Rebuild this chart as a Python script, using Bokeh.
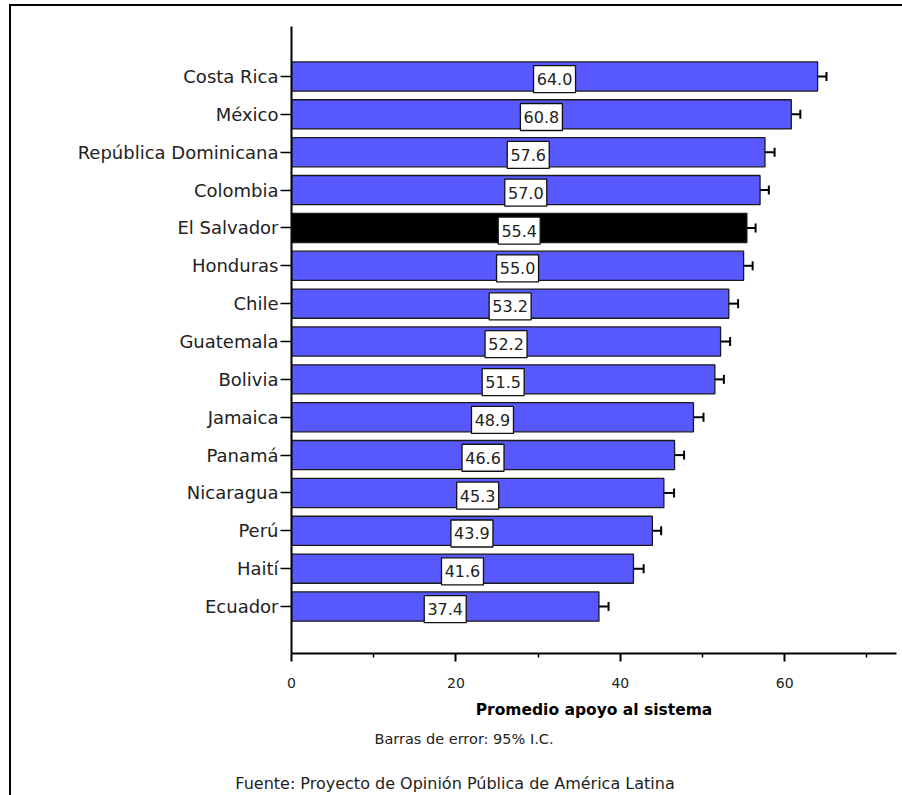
from bokeh.plotting import figure
from bokeh.layouts import column
from bokeh.models import (ColumnDataSource, Range1d, FixedTicker, Whisker, TeeHead, Div)
from bokeh.core.properties import value
from bokeh.embed import file_html
from bokeh.resources import INLINE

countries = ["Costa Rica", "México", "República Dominicana", "Colombia", "El Salvador",
             "Honduras", "Chile", "Guatemala", "Bolivia", "Jamaica", "Panamá",
             "Nicaragua", "Perú", "Haití", "Ecuador"]
means = [64.0, 60.8, 57.6, 57.0, 55.4, 55.0, 53.2, 52.2, 51.5, 48.9, 46.6, 45.3, 43.9, 41.6, 37.4]
ci_half = [1.08, 1.10, 1.17, 1.07, 1.06, 1.10, 1.13, 1.16, 1.10, 1.22, 1.16, 1.24, 1.07, 1.24, 1.17]
highlight = "El Salvador"
x_ticks = [0, 20, 40, 60]
x_minor = [10, 30, 50, 70]
x_title = "Promedio apoyo al sistema"
note = "Barras de error: 95% I.C."
source_note = "Fuente: Proyecto de Opinión Pública de América Latina"

FONT = "DejaVu Sans"
BLUE = "#5858FF"
W = 890
n = len(countries)
ys = [n - i for i in range(n)]
src = ColumnDataSource(dict(
    y=ys,
    ylab=[y - 0.07 for y in ys],
    val=means,
    mid=[m / 2 for m in means],
    lo=[m - e for m, e in zip(means, ci_half)],
    hi=[m + e for m, e in zip(means, ci_half)],
    lab=[f"{m:.1f}" for m in means],
    color=["black" if c == highlight else BLUE for c in countries],
))

p = figure(width=W, height=720, output_backend="svg", toolbar_location=None,
           x_range=Range1d(0, 73.6), y_range=Range1d(-0.24, n + 1.32),
           min_border_left=280, min_border_right=5, min_border_top=20, min_border_bottom=73)
p.outline_line_color = None
p.grid.visible = False

p.hbar(y="y", left=0, right="val", height=0.77, fill_color="color",
       line_color="#1a1a1a", line_width=1.3, source=src)

p.add_layout(Whisker(source=src, base="y", lower="lo", upper="hi", dimension="width",
                     line_color="black", line_width=2,
                     upper_head=TeeHead(size=9, line_width=2, line_color="black"),
                     lower_head=TeeHead(size=9, line_width=2, line_color="black")))

p.rect(x="mid", y="ylab", width=42, height=27, width_units="screen", height_units="screen",
       fill_color="white", line_color="#111111", line_width=1.3, source=src)
p.text(x="mid", y="ylab", text="lab", text_align="center", text_baseline="middle",
       text_font=value(FONT), text_font_size="16px", text_color="#222222", source=src)

# x axis
xa = p.xaxis[0]
xa.ticker = FixedTicker(ticks=x_ticks, minor_ticks=x_minor)
xa.axis_line_width = 2
xa.axis_line_color = "black"
xa.major_tick_line_width = 2
xa.major_tick_out = 8
xa.major_tick_in = 0
xa.minor_tick_line_width = 1.5
xa.minor_tick_out = 4
xa.minor_tick_in = 0
xa.major_label_standoff = 16
xa.major_label_text_font = FONT
xa.major_label_text_font_size = "14px"
xa.major_label_text_color = "#222222"
xa.axis_label = x_title
xa.axis_label_text_font = FONT
xa.axis_label_text_font_style = "bold"
xa.axis_label_text_font_size = "15.5px"
xa.axis_label_text_color = "black"
xa.axis_label_standoff = 10

# y axis
ya = p.yaxis[0]
ya.ticker = FixedTicker(ticks=ys, minor_ticks=[])
ya.major_label_overrides = {y: c for y, c in zip(ys, countries)}
ya.axis_line_width = 2
ya.axis_line_color = "black"
ya.major_tick_line_width = 1.5
ya.major_tick_out = 11
ya.major_tick_in = 0
ya.major_label_standoff = 2
ya.major_label_text_font = FONT
ya.major_label_text_font_size = "18px"
ya.major_label_text_color = "#222222"

# footer notes
H2 = 68
span = ("position:absolute;left:{x}px;top:{y}px;transform:translate(-50%,-50%);"
        "white-space:nowrap;font-family:'DejaVu Sans';font-size:{s}px;color:#222222;")
html = (
    f'<div style="position:relative;width:{W}px;height:{H2}px;">'
    f'<span style="{span.format(x=448, y=8, s=14.5)}">{note}</span>'
    f'<span style="{span.format(x=439, y=53, s=16)}">{source_note}</span>'
    '</div>'
)
foot = Div(text=html, width=W, height=H2)

lay = column(p, foot, spacing=0)
lay.styles = {"margin-left": "9px", "margin-top": "4px",
              "border-left": "2px solid black", "border-top": "2px solid black"}

open("out.html", "w").write(file_html(lay, INLINE))
